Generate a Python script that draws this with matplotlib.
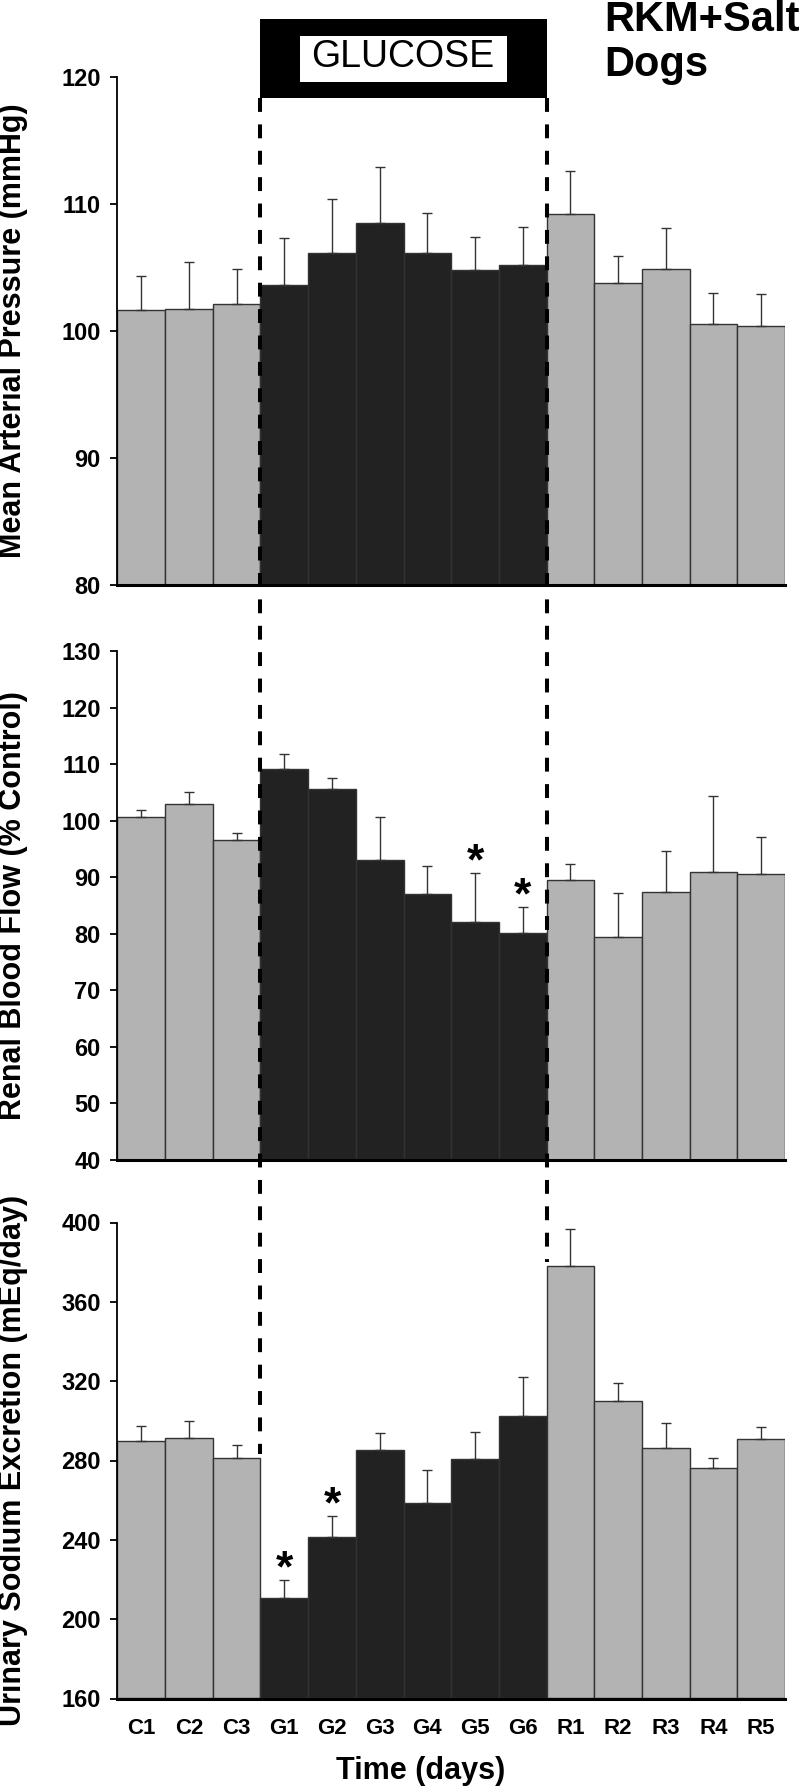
import matplotlib
matplotlib.use("Agg")
import matplotlib.pyplot as plt
from matplotlib.patches import Rectangle
from matplotlib.lines import Line2D
from matplotlib.transforms import blended_transform_factory

plt.rcParams['font.family'] = ['Liberation Sans', 'DejaVu Sans']
plt.rcParams['lines.scale_dashes'] = False

# Days of the protocol
days = ['C1', 'C2', 'C3', 'G1', 'G2', 'G3', 'G4', 'G5', 'G6', 'R1', 'R2', 'R3', 'R4', 'R5']
phase = ['C'] * 3 + ['G'] * 6 + ['R'] * 5

# Mean arterial pressure (mmHg), mean and SEM
map_mean = [101.6, 101.7, 102.1, 103.6, 106.1, 108.5, 106.1, 104.8, 105.2, 109.2, 103.8, 104.9, 100.5, 100.4]
map_sem = [2.7, 3.7, 2.8, 3.7, 4.3, 4.4, 3.2, 2.6, 3.0, 3.4, 2.1, 3.2, 2.5, 2.5]

# Renal blood flow (% control)
rbf_mean = [100.7, 102.9, 96.6, 109.2, 105.6, 93.0, 87.0, 82.0, 80.1, 89.5, 79.5, 87.4, 91.0, 90.6]
rbf_sem = [1.1, 2.1, 1.3, 2.6, 1.9, 7.7, 5.0, 8.8, 4.6, 2.9, 7.7, 7.3, 13.4, 6.5]
rbf_stars = ['G5', 'G6']

# Urinary sodium excretion (mEq/day)
una_mean = [289.8, 291.5, 281.3, 210.6, 241.4, 285.1, 258.5, 280.9, 302.3, 378.3, 310.2, 286.2, 276.2, 290.8]
una_sem = [7.4, 8.3, 6.5, 9.3, 10.8, 8.9, 16.6, 13.7, 20.0, 18.5, 9.1, 12.7, 4.9, 6.0]
una_stars = ['G1', 'G2']

map_ticks = [80, 90, 100, 110, 120]
rbf_ticks = [40, 50, 60, 70, 80, 90, 100, 110, 120, 130]
una_ticks = [160, 200, 240, 280, 320, 360, 400]

GRAY = '#b3b3b3'
DARK = '#222222'
W, H = 806, 1787


def draw_panel(ax, means, sems, ticks, label, stars=()):
    x = list(range(len(days)))
    colors = [DARK if p == 'G' else GRAY for p in phase]
    ax.bar(x, [m - ticks[0] for m in means], bottom=ticks[0], width=1.0,
           color=colors, edgecolor='#333333', linewidth=1.0, zorder=2)
    ax.errorbar(x, means, yerr=[[0] * len(means), sems], fmt='none',
                ecolor='#333333', elinewidth=1.0, capsize=3.5, capthick=1.0, zorder=3)
    for s in stars:
        i = days.index(s)
        ax.annotate('*', (i, means[i] + sems[i]), xytext=(0, -1),
                    textcoords='offset points', ha='center', va='baseline',
                    fontsize=32, fontweight='bold')
    ax.set_xlim(-0.5, len(days) - 0.5)
    ax.set_ylim(ticks[0], ticks[-1])
    ax.set_yticks(ticks)
    ax.set_yticklabels([str(t) for t in ticks], fontsize=17, fontweight='bold')
    ax.tick_params(axis='y', length=5, width=1.3, pad=7)
    ax.tick_params(axis='x', length=0)
    for side in ['top', 'right']:
        ax.spines[side].set_visible(False)
    ax.spines['left'].set_linewidth(1.3)
    ax.spines['bottom'].set_linewidth(2.2)
    ax.spines['bottom'].set_zorder(4)
    # y label centred on the panel
    pos = ax.get_position()
    fig.text(13 / W, pos.y0 + pos.height / 2, label, rotation=90,
             ha='center', va='center', fontsize=22, fontweight='bold')


fig = plt.figure(figsize=(W / 100, H / 100), dpi=100)

left, right = 117.4, 785
ax1 = fig.add_axes([left / W, 1 - 585 / H, (right - left) / W, (585 - 76.6) / H])
ax2 = fig.add_axes([left / W, 1 - 1160 / H, (right - left) / W, (1160 - 651) / H])
ax3 = fig.add_axes([left / W, 1 - 1698.5 / H, (right - left) / W, (1698.5 - 1222.5) / H])

draw_panel(ax1, map_mean, map_sem, map_ticks, 'Mean Arterial Pressure (mmHg)')
draw_panel(ax2, rbf_mean, rbf_sem, rbf_ticks, 'Renal Blood Flow (% Control)', rbf_stars)
draw_panel(ax3, una_mean, una_sem, una_ticks, 'Urinary Sodium Excretion (mEq/day)', una_stars)

ax1.set_xticks([])
ax2.set_xticks([])
ax3.set_xticks(range(len(days)))
ax3.set_xticklabels(days, fontsize=16, fontweight='bold')
ax3.tick_params(axis='x', pad=14)
fig.text(421 / W, 1 - 1771 / H, 'Time (days)', ha='center', va='center',
         fontsize=22, fontweight='bold')

# Glucose infusion box spanning G1..G6
g_start = days.index('G1') - 0.5
g_end = days.index('G6') + 0.5
trans = blended_transform_factory(ax1.transData, fig.transFigure)
box_top, box_bot = 1 - 19.3 / H, 1 - 97.7 / H
fig.add_artist(Rectangle((g_start, box_bot), g_end - g_start, box_top - box_bot,
                         transform=trans, facecolor='black', edgecolor='none'))
fig.add_artist(Rectangle((g_start + 0.82, 1 - 82.3 / H), g_end - g_start - 1.64,
                         (82.3 - 35.7) / H, transform=trans,
                         facecolor='white', edgecolor='none'))
fig.text(403 / W, 1 - 67 / H, 'GLUCOSE', ha='center', va='baseline', fontsize=27)

# Dashed lines marking glucose period, down to the third panel's bars
inv = fig.transFigure.inverted()
for xd, idx in [(g_start, days.index('C3')), (g_end, days.index('R1'))]:
    xf, _ = inv.transform(ax1.transData.transform((xd, 100)))
    _, yend = inv.transform(ax3.transData.transform((xd, una_mean[idx])))
    fig.add_artist(Line2D([xf, xf], [box_bot, yend + 4 / H], color='black',
                          linewidth=2.9, linestyle=(0, (10, 9)), zorder=5))

fig.text(604 / W, 1 - 0 / H, 'RKM+Salt\nDogs', ha='left', va='top',
         fontsize=30, fontweight='bold', linespacing=1.15)

fig.savefig('out.png', dpi=100)
